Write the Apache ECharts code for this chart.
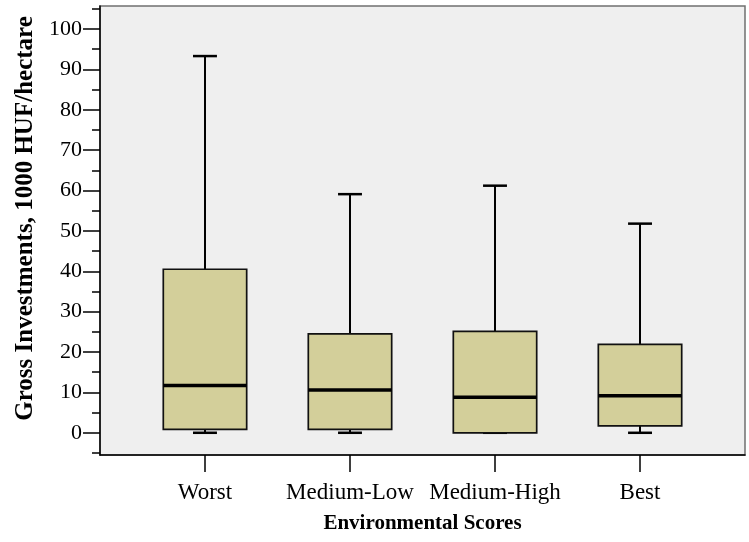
<!DOCTYPE html>
<html>
<head>
<meta charset="utf-8">
<script src="https://cdn.jsdelivr.net/npm/echarts@6/dist/echarts.min.js"></script>
<style>
  html, body { margin: 0; padding: 0; background: #fff; }
</style>
</head>
<body>
<!-- chart container -->
<div id="main" style="width: 749px; height: 542px"></div>
<script>
// categories and box statistics
const categories = ['Worst', 'Medium-Low', 'Medium-High', 'Best'];
const minVals = [0, 0, 0, 0];
const q1Vals = [0.85, 0.85, 0, 1.7];
const medianVals = [11.7, 10.6, 8.8, 9.2];
const q3Vals = [40.5, 24.5, 25.1, 21.9];
const maxVals = [93.3, 59.1, 61.2, 51.8];

// tick labels
const majorTicks = [0, 10, 20, 30, 40, 50, 60, 70, 80, 90, 100];
const minorTicks = [-5, 5, 15, 25, 35, 45, 55, 65, 75, 85, 95, 105];
const catTicks = [0, 1, 2, 3];

const font = 'Liberation Serif';

const boxData = categories.map((c, i) =>
  [i, minVals[i], q1Vals[i], medianVals[i], q3Vals[i], maxVals[i]]);

function renderBox(params, api) {
  const x = api.value(0);
  const pt = k => api.coord([x, api.value(k)]);
  const pMin = pt(1), pQ1 = pt(2), pMed = pt(3), pQ3 = pt(4), pMax = pt(5);
  const unit = api.size([1, 0])[0];
  const bw = unit * 0.575;
  const cw = unit * 0.165;
  const cx = pMed[0];
  const line = (x1, y1, x2, y2, w) => ({
    type: 'line',
    shape: { x1: x1, y1: y1, x2: x2, y2: y2 },
    style: { stroke: '#000', lineWidth: w }
  });
  return {
    type: 'group',
    children: [
      line(cx, pQ3[1], cx, pMax[1], 2),
      line(cx - cw / 2, pMax[1], cx + cw / 2, pMax[1], 2.5),
      line(cx, pQ1[1], cx, pMin[1], 2),
      line(cx - cw / 2, pMin[1], cx + cw / 2, pMin[1], 2.5),
      {
        type: 'rect',
        shape: { x: cx - bw / 2, y: pQ3[1], width: bw, height: pQ1[1] - pQ3[1] },
        style: { fill: '#d3cf9a', stroke: '#111', lineWidth: 1.7 }
      },
      line(cx - bw / 2, pMed[1], cx + bw / 2, pMed[1], 3.5)
    ]
  };
}

const option = {
  animation: false,
  backgroundColor: '#fff',
  grid: {
    left: 100, right: 4, top: 6, bottom: 87,
    show: true,
    backgroundColor: '#efefef',
    borderColor: '#707070',
    borderWidth: 1.5
  },
  xAxis: {
    type: 'value',
    min: -0.724,
    max: 3.724,
    axisLine: { show: true, onZero: false, lineStyle: { color: '#000', width: 1.5 } },
    axisTick: { show: true, customValues: catTicks, length: 17, lineStyle: { color: '#000', width: 1.5 } },
    axisLabel: {
      customValues: catTicks,
      formatter: v => categories[v],
      margin: 26,
      color: '#000',
      fontFamily: font,
      fontSize: 23
    },
    splitLine: { show: false },
    name: 'Environmental Scores',
    nameLocation: 'middle',
    nameGap: 58,
    nameTextStyle: { color: '#000', fontFamily: font, fontSize: 21, fontWeight: 'bold' }
  },
  yAxis: [
    {
      type: 'value',
      min: -5.5,
      max: 105.7,
      position: 'left',
      axisLine: { show: true, onZero: false, lineStyle: { color: '#000', width: 1.5 } },
      axisTick: { show: true, customValues: majorTicks, length: 17, lineStyle: { color: '#000', width: 1.5 } },
      axisLabel: {
        customValues: majorTicks,
        margin: 18,
        color: '#000',
        fontFamily: font,
        fontSize: 22
      },
      splitLine: { show: false },
      name: 'Gross Investments, 1000 HUF/hectare',
      nameLocation: 'middle',
      nameGap: 62,
      nameTextStyle: {
        color: '#000', fontFamily: font, fontSize: 25, fontWeight: 'bold',
        padding: [0, 0, 0, 24]
      }
    },
    {
      type: 'value',
      min: -5.5,
      max: 105.7,
      position: 'left',
      offset: 0,
      axisLine: { show: false, onZero: false },
      axisTick: { show: true, customValues: minorTicks, length: 8, lineStyle: { color: '#000', width: 1.5 } },
      axisLabel: { show: false },
      splitLine: { show: false }
    }
  ],
  series: [
    {
      type: 'custom',
      renderItem: renderBox,
      encode: { x: 0, y: [1, 2, 3, 4, 5] },
      data: boxData
    }
  ]
};

var myChart = echarts.init(document.getElementById('main'));
myChart.setOption(option);
</script>
</body>
</html>
